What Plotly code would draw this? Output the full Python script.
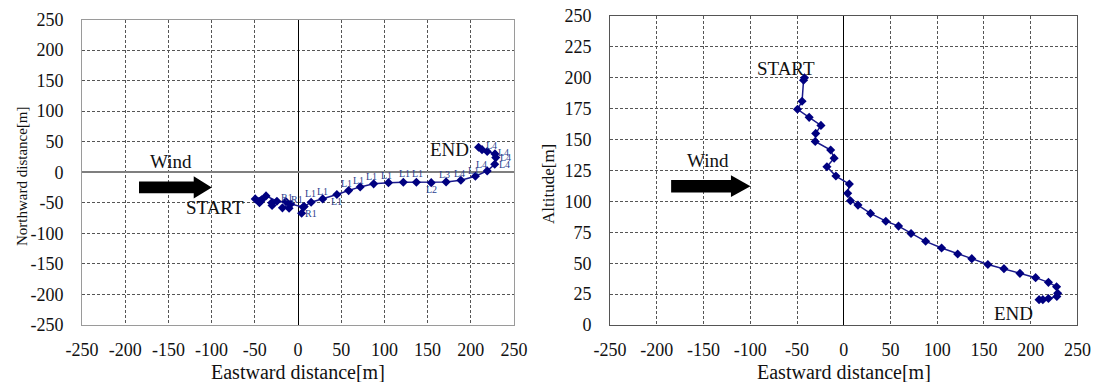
import plotly.graph_objects as go

# ---- trajectory data ----
east = [-42, -43, -44.6, -49.5, -37, -24.4, -30, -30.5, -14, -10.3, -18, -8.4,
        6, 4.2, 7.2, 15.2, 28.6, 45, 58.6, 72, 87.6, 104.7, 121.9, 137, 154.2,
        171.4, 188.5, 205.3, 219, 227.7, 228.9, 228, 219, 213, 209]
north = [-45, -47, -50, -43.6, -38.7, -47.4, -54.5, -50, -48, -59, -58.3, -52,
         -57, -67, -56, -49, -43.6, -36.5, -30, -24, -19, -17, -16.4, -16.4, -17,
         -15.8, -13, -6.5, 2.2, 13, 24, 30, 34, 37, 41]
altitude = [200, 198, 181, 174.5, 168, 161.5, 155, 148.5, 141.6, 135, 128, 120.5,
            114, 106.5, 100.5, 97, 90.3, 84, 80, 74, 67.7, 62.3, 57.4, 53.7, 49,
            45.6, 41.8, 38.3, 34.5, 31, 25.6, 23, 21.5, 20.5, 20.5]

# small manoeuvre labels on the plan view
label_text = ["R1", "R1", "L1", "L1", "L1", "R1", "L1", "L1", "L1", "L1", "L1", "L1",
              "L2", "L3", "L4", "L1", "L4", "L4", "L4", "L4", "L4"]
label_east = [-12.7, -1, 13.9, 27.8, 44, 15.5, 56.6, 70.5, 85.5, 102, 122.7, 138,
              155, 169.4, 187.3, 203, 211.8, 223.7, 237.5, 240, 239]
label_north = [-40.9, -44, -35, -31, -48.5, -67.5, -18.5, -13, -7, -5.5, -2.2, -2.2,
               -29, -3.8, -2.2, 2.7, 13, 43.6, 32.7, 24, 13]

axis_ticks = [-250, -200, -150, -100, -50, 0, 50, 100, 150, 200, 250]
axis_tick_text = ["-250", "-200", "-150", "-100", "-50", "0", "50", "100", "150", "200", "250"]
alt_ticks = [0, 25, 50, 75, 100, 125, 150, 175, 200, 225, 250]
alt_tick_text = ["0", "25", "50", "75", "100", "125", "150", "175", "200", "225", "250"]

FONT = "Liberation Serif"
LINE = "#1a1a8c"
MARK = "#000080"

fig = go.Figure()
fig.add_trace(go.Scatter(x=east, y=north, mode="lines+markers", xaxis="x", yaxis="y",
                         line=dict(color=LINE, width=1.5),
                         marker=dict(symbol="diamond", size=7, color=MARK),
                         showlegend=False, hoverinfo="skip"))
fig.add_trace(go.Scatter(x=east, y=altitude, mode="lines+markers", xaxis="x2", yaxis="y2",
                         line=dict(color=LINE, width=1.5),
                         marker=dict(symbol="diamond", size=7, color=MARK),
                         showlegend=False, hoverinfo="skip"))

W, H = 1098, 382
def px_x(a, b):
    return [a / W, b / W]
def px_y(top, bottom):
    return [(H - bottom) / H, (H - top) / H]

grid = dict(showgrid=True, gridcolor="#555555", gridwidth=1, griddash="3px,2px",
            showline=True, mirror=True, ticks="outside", tickcolor="rgba(0,0,0,0)",
            automargin=False,
            tickfont=dict(family=FONT, size=18, color="#111"), fixedrange=True)

fig.update_layout(
    width=W, height=H, margin=dict(l=0, r=0, t=0, b=0),
    paper_bgcolor="white", plot_bgcolor="white",
    xaxis=dict(domain=px_x(82, 514), range=[-250, 250], tickvals=axis_ticks,
               ticktext=axis_tick_text,
               anchor="y", zeroline=True, zerolinecolor="#000", zerolinewidth=1,
               linecolor="#9a9a9a", ticklen=8, **grid),
    yaxis=dict(domain=px_y(19.5, 325), range=[-250, 250], tickvals=axis_ticks,
               ticktext=axis_tick_text,
               anchor="x", zeroline=True, zerolinecolor="#7f7f7f", zerolinewidth=1.5,
               linecolor="#9a9a9a", ticklen=14, **grid),
    xaxis2=dict(domain=px_x(610.1, 1077.4), range=[-250, 250], tickvals=axis_ticks,
                ticktext=axis_tick_text,
                anchor="y2", zeroline=True, zerolinecolor="#000", zerolinewidth=1,
                linecolor="#555555", ticklen=8, **grid),
    yaxis2=dict(domain=px_y(16, 325), range=[0, 250], tickvals=alt_ticks,
                ticktext=alt_tick_text,
                anchor="x2", zeroline=False,
                linecolor="#555555", ticklen=14, **grid),
)

txt = dict(family=FONT, size=19, color="#111")
ann = []
# axis titles
ann.append(dict(text="Eastward distance[m]", xref="x domain", yref="paper", x=0.5,
                y=(H - 372) / H, showarrow=False, font=dict(family=FONT, size=20, color="#111"),
                yanchor="middle"))
ann.append(dict(text="Eastward distance[m]", xref="x2 domain", yref="paper", x=0.5,
                y=(H - 372) / H, showarrow=False, font=dict(family=FONT, size=20, color="#111"),
                yanchor="middle"))
ann.append(dict(text="Northward distance[m]", xref="paper", yref="paper", x=22 / W,
                y=(H - 176) / H, textangle=-90, showarrow=False,
                font=dict(family=FONT, size=15, color="#111"),
                xanchor="center", yanchor="middle"))
ann.append(dict(text="Altitude[m]", xref="paper", yref="paper", x=549 / W,
                y=(H - 184) / H, textangle=-90, showarrow=False,
                font=dict(family=FONT, size=17, color="#111"),
                xanchor="center", yanchor="middle"))
# text in plots
ann.append(dict(text="Wind", x=-146.7, y=17, xref="x", yref="y", showarrow=False, font=txt))
ann.append(dict(text="START", x=-95.5, y=-58.5, xref="x", yref="y", showarrow=False, font=txt))
ann.append(dict(text="END", x=175, y=38, xref="x", yref="y", showarrow=False, font=txt))
ann.append(dict(text="Wind", x=-145, y=133, xref="x2", yref="y2", showarrow=False, font=txt))
ann.append(dict(text="START", x=-61.7, y=207.7, xref="x2", yref="y2", showarrow=False, font=txt))
ann.append(dict(text="END", x=182, y=9.7, xref="x2", yref="y2", showarrow=False, font=txt))
for t, ex, ny in zip(label_text, label_east, label_north):
    ann.append(dict(text=t, x=ex, y=ny, xref="x", yref="y", showarrow=False,
                    font=dict(family=FONT, size=10, color="#2b3f8f")))
fig.update_layout(annotations=ann)

# wind arrows (block arrows)
def arrow_path(x0, xh, xt, yc, hb, hh):
    return (f"M {x0},{yc - hb} L {xh},{yc - hb} L {xh},{yc - hh} L {xt},{yc} "
            f"L {xh},{yc + hh} L {xh},{yc + hb} L {x0},{yc + hb} Z")

fig.add_shape(type="path", xref="x", yref="y", fillcolor="black", line=dict(width=0),
              path=arrow_path(-184, -120.7, -99.8, -24.8, 9.6, 18.3))
fig.add_shape(type="path", xref="x2", yref="y2", fillcolor="black", line=dict(width=0),
              path=arrow_path(-184.7, -120.7, -99.8, 112.3, 5.0, 8.8))

fig.write_html("out.html", config={"displayModeBar": False},
               post_script="document.body.style.margin='0';document.body.style.padding='0';")
